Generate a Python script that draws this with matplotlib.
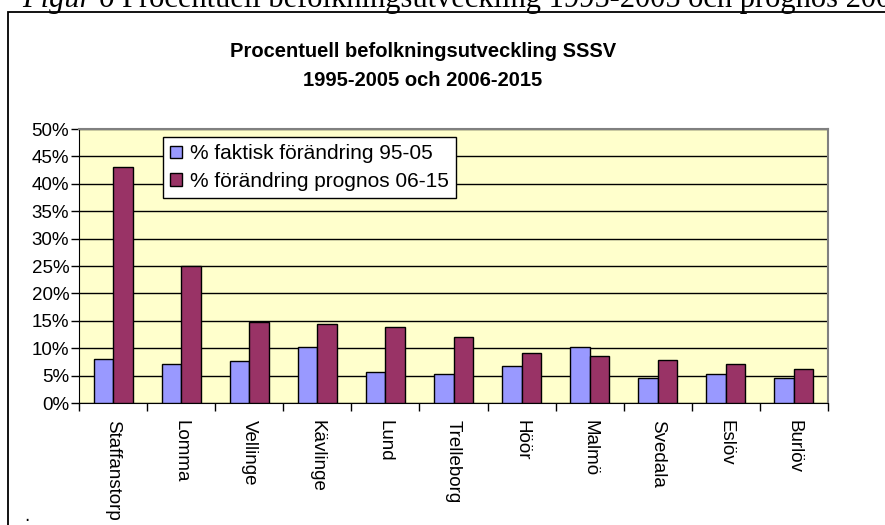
import numpy as np
import matplotlib.pyplot as plt
from matplotlib.patches import Rectangle
from matplotlib.ticker import MultipleLocator, PercentFormatter

kommuner = ['Staffanstorp', 'Lomma', 'Vellinge', 'Kävlinge', 'Lund', 'Trelleborg',
            'Höör', 'Malmö', 'Svedala', 'Eslöv', 'Burlöv']
faktisk_95_05 = [8.0, 7.2, 7.7, 10.3, 5.7, 5.3, 6.7, 10.3, 4.5, 5.3, 4.5]
prognos_06_15 = [43.1, 25.0, 14.8, 14.4, 13.9, 12.0, 9.2, 8.6, 7.9, 7.2, 6.2]

W, H = 885, 525
fig = plt.figure(figsize=(W / 100, H / 100), dpi=100, facecolor='white')

# ram runt diagrammet (fortsätter utanför bilden till höger/nedåt)
fig.patches.append(Rectangle((8 / W, -0.1), 1.2, 1.1 - 12 / H, transform=fig.transFigure,
                             fill=False, edgecolor='black', lw=1.3, zorder=0))

# bildtext ovanför, avklippt i överkant
fig.text(22 / W, 1 - 7 / H, 'Figur 6', family='Liberation Serif', style='italic',
         fontsize=22, ha='left', va='baseline')
fig.text(122 / W, 1 - 7 / H, 'Procentuell befolkningsutveckling 1995-2005 och prognos 2006-2015',
         family='Liberation Serif', fontsize=22, ha='left', va='baseline')

ax = fig.add_axes([79 / W, 1 - 403 / H, (828 - 79) / W, (403 - 129) / H])
ax.set_facecolor('#FFFFCC')

x = np.arange(len(kommuner))
bw = 0.286
ax.bar(x - bw / 2, faktisk_95_05, bw, color='#9999FF', edgecolor='black', lw=1,
       label='% faktisk förändring 95-05', zorder=3)
ax.bar(x + bw / 2, prognos_06_15, bw, color='#993366', edgecolor='black', lw=1,
       label='% förändring prognos 06-15', zorder=3)

ax.set_xlim(-0.5, len(kommuner) - 0.5)
ax.set_ylim(0, 50)
ax.yaxis.set_major_locator(MultipleLocator(5))
ax.yaxis.set_major_formatter(PercentFormatter(decimals=0))
ax.grid(axis='y', color='black', lw=1, zorder=1)
ax.set_axisbelow(True)

ax.set_xticks(np.arange(len(kommuner) + 1) - 0.5)
ax.set_xticklabels([])
ax.set_xticks(x, minor=True)
ax.set_xticklabels(kommuner, minor=True, rotation=-90, va='top', ha='center',
                   family='Liberation Sans', fontsize=13.5)
ax.tick_params(axis='x', which='minor', length=0, pad=12)
ax.tick_params(axis='x', which='major', length=6, width=1)
ax.tick_params(axis='y', length=6, width=1, labelsize=13.5, pad=1)
for lbl in ax.get_yticklabels():
    lbl.set_family('Liberation Sans')

for side in ['top', 'right']:
    ax.spines[side].set_color('#808080')
    ax.spines[side].set_linewidth(1.5)
ax.spines['left'].set_color('black')
ax.spines['bottom'].set_color('black')

leg = ax.legend(loc='upper left', bbox_to_anchor=((163 - 79) / (828 - 79), 1 - (137 - 129) / (403 - 129)),
                prop={'family': 'Liberation Sans', 'size': 15}, frameon=True, fancybox=False,
                borderpad=0.35, handlelength=0.55, handleheight=0.55, handletextpad=0.4,
                labelspacing=0.4, borderaxespad=0)
leg.get_frame().set_edgecolor('black')
leg.get_frame().set_linewidth(1)
leg.get_frame().set_alpha(1)

fig.text(423 / W, 1 - 51 / H, 'Procentuell befolkningsutveckling SSSV', family='Liberation Sans',
         fontweight='bold', fontsize=14.5, ha='center', va='center')
fig.text(423 / W, 1 - 80 / H, '1995-2005 och 2006-2015', family='Liberation Sans',
         fontweight='bold', fontsize=14.5, ha='center', va='center')

fig.text(27 / W, 1 - 521 / H, '.', fontsize=12, ha='center', va='baseline')

fig.savefig('out.png', dpi=100)
